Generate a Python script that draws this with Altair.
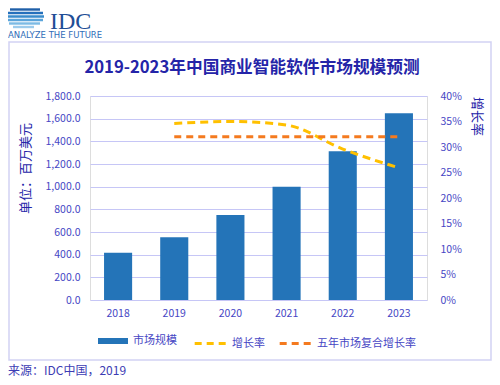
import altair as alt
import pandas as pd

# ---- data ----
years = ["2018", "2019", "2020", "2021", "2022", "2023"]
market_size = [417, 553, 750, 1000, 1312, 1647]
growth_years = ["2019", "2020", "2021", "2022", "2023"]
growth_rate = [0.346, 0.350, 0.343, 0.296, 0.259]
cagr_years = ["2019", "2020", "2021", "2022", "2023"]
cagr_rate = [0.320, 0.320, 0.320, 0.320, 0.320]
left_ticks = [0, 200, 400, 600, 800, 1000, 1200, 1400, 1600, 1800]
right_ticks = [0, 0.05, 0.10, 0.15, 0.20, 0.25, 0.30, 0.35, 0.40]

S_BAR = "市场规模"
S_GROWTH = "增长率"
S_CAGR = "五年市场复合增长率"

bar_df = pd.DataFrame({"year": years, "value": market_size, "s": S_BAR})
growth_df = pd.DataFrame({"year": growth_years, "rate": growth_rate, "s": S_GROWTH})
cagr_df = pd.DataFrame({"year": cagr_years, "rate": cagr_rate, "s": S_CAGR})

FONT = "Noto Sans CJK SC"
LABEL_C = "#4646c4"
TITLE_C = "#2424a8"
GRID_C = "#c6c6f6"
BAR_C = "#2474b8"
YEL = "#ffc000"
ORG = "#f47a1f"

W, H = 337, 204
LEG_Y = 230


def leg(x, **kw):
    base = dict(title=None, orient="none", legendX=x, legendY=LEG_Y, labelFont=FONT, labelFontSize=11,
                labelColor=LABEL_C)
    base.update(kw)
    return alt.Legend(**base)


line_leg = dict(symbolType="stroke", symbolSize=1000, symbolStrokeWidth=3, symbolDash=[7, 5], labelOffset=4)

x_enc = alt.X("year:N", sort=years, scale=alt.Scale(domain=years, paddingInner=0.5, paddingOuter=0.25),
              axis=alt.Axis(title=None, labelAngle=0, labelColor=LABEL_C, labelFont=FONT, labelFontSize=10.5,
                            labelPadding=8, domain=False, ticks=False, grid=False))

bars = alt.Chart(bar_df).mark_bar().encode(
    x=x_enc,
    y=alt.Y("value:Q", scale=alt.Scale(domain=[0, 1800], nice=False),
            axis=alt.Axis(title="单位：百万美元", values=left_ticks, format=",.1f", labelColor=LABEL_C,
                          labelFont=FONT, labelFontSize=10.5, labelPadding=10, domain=False, ticks=False,
                          grid=True, gridColor=GRID_C, gridWidth=1,
                          titleFont=FONT, titleFontSize=13, titleFontWeight="normal", titleColor=TITLE_C,
                          titleX=-65, titleY=72, titleBaseline="middle", titleAlign="center",
                          titleAngle=270)),
    fill=alt.Fill("s:N", scale=alt.Scale(domain=[S_BAR], range=[BAR_C]),
                  legend=leg(8, symbolType="M-1,-0.2H1V0.2H-1Z", symbolSize=900, labelOffset=5,
                             symbolStrokeWidth=0)),
)

y_right = alt.Y("rate:Q", scale=alt.Scale(domain=[0, 0.40], nice=False),
                axis=alt.Axis(title="增长率", orient="right", values=right_ticks, format=".0%",
                              labelColor=LABEL_C, labelFont=FONT, labelFontSize=10.5, labelPadding=13,
                              domain=False, ticks=False, grid=False, titleFont=FONT, titleFontSize=13,
                              titleFontWeight="normal", titleColor=TITLE_C, titleX=49, titleY=20,
                              titleBaseline="middle", titleAlign="center", titleAngle=90))

growth = alt.Chart(growth_df).mark_line(strokeWidth=3, strokeDash=[8, 5], interpolate="monotone").encode(
    x=alt.X("year:N", sort=years),
    y=y_right,
    stroke=alt.Stroke("s:N", scale=alt.Scale(domain=[S_GROWTH], range=[YEL]),
                      legend=leg(103, **line_leg)),
)

cagr = alt.Chart(cagr_df).mark_line(strokeWidth=3, strokeDash=[7, 5]).encode(
    x=alt.X("year:N", sort=years),
    y=y_right,
    color=alt.Color("s:N", scale=alt.Scale(domain=[S_CAGR], range=[ORG]),
                    legend=leg(188, **line_leg)),
)

lines = alt.layer(growth, cagr)

one = alt.Data(values=[{"a": 1}])

border = alt.Chart(one).mark_rect(fill=None, stroke="#d2d2f4", strokeWidth=1.5).encode(
    x=alt.value(-81), x2=alt.value(401), y=alt.value(-54), y2=alt.value(264))

title = alt.Chart(one).mark_text(text="2019-2023年中国商业智能软件市场规模预测", font=FONT, fontSize=16.7,
                                 fontWeight="bold", color=TITLE_C, align="center", baseline="middle").encode(
    x=alt.value(162), y=alt.value(-28))

source = alt.Chart(one).mark_text(text="来源：IDC中国，2019", font=FONT, fontSize=12, color="#3c3cb4",
                                  align="left", baseline="middle").encode(x=alt.value(-82), y=alt.value(275))

idc = alt.Chart(one).mark_text(text="IDC", font="Liberation Serif", fontSize=24, color="#1f4e96",
                               align="left", baseline="alphabetic").encode(x=alt.value(-40), y=alt.value(-67))

tagline = alt.Chart(one).mark_text(text="ANALYZE THE FUTURE", font="DejaVu Sans", fontSize=8.5,
                                   color="#2f6db8", align="left", baseline="middle").encode(
    x=alt.value(-82), y=alt.value(-61))

# logo stripes (decoration)
stripe_df = pd.DataFrame({
    "y": [-86.5, -83, -79.5, -76, -72.5, -69],
    "x1": [-80, -82, -82, -82, -81, -77],
    "x2": [-50, -47, -46, -47, -50, -56],
    "c": ["#1f5fa8", "#2470bc", "#3a8ccc", "#5aa4da", "#7cbae4", "#9ccbec"],
})
stripes = alt.Chart(stripe_df).mark_rule(strokeWidth=2.4).encode(
    x=alt.X("x1:Q", scale=None), x2="x2:Q", y=alt.Y("y:Q", scale=None),
    color=alt.Color("c:N", scale=None))

main = alt.layer(bars, lines).resolve_scale(y="independent", fill="independent", stroke="independent",
                                            color="independent")

chart = alt.layer(border, main, title, source, idc, tagline, stripes).properties(
    width=W, height=H,
    autosize=alt.AutoSizeParams(type="none"),
    padding={"left": 82, "top": 88, "right": 65, "bottom": 77},
).configure_view(stroke=None).configure(background="white")

chart.save("out.html", embed_options={"renderer": "svg", "actions": False})
